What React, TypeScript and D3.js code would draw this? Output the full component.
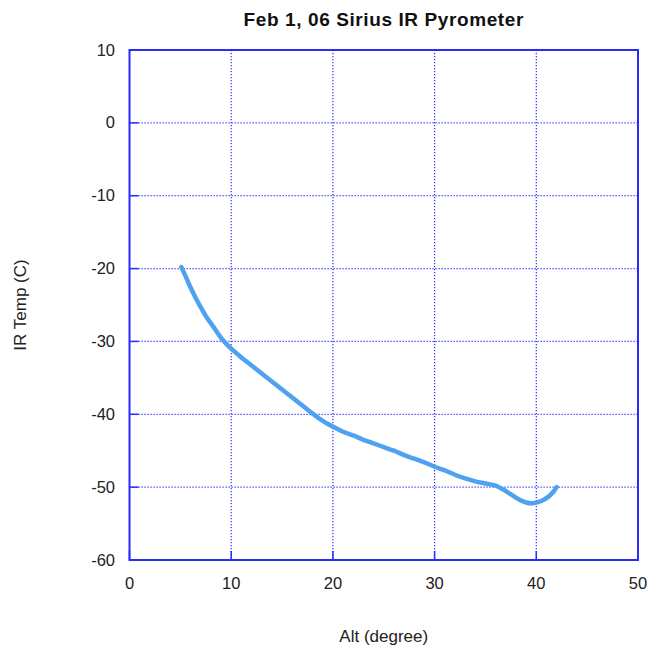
import React from "react";
import * as d3 from "d3";

const title = "Feb 1, 06 Sirius IR Pyrometer";
const xLabel = "Alt (degree)";
const yLabel = "IR Temp (C)";

const xTicks = [0, 10, 20, 30, 40, 50];
const yTicks = [10, 0, -10, -20, -30, -40, -50, -60];

// Altitude (degrees) and measured IR temperature (°C)
const altitude = [
  5.1, 5.5, 6.0, 6.5, 7.0, 7.5, 8.0, 8.5, 9.0, 9.5, 10, 11, 12, 13, 14, 15, 16, 17, 18, 19,
  20, 21, 22, 23, 24, 25, 26, 27, 28, 29, 30, 31, 32, 33, 34, 35, 36, 36.7, 37.5, 38.3,
  39.0, 39.7, 40.5, 41.2, 41.7, 42.0,
];
const irTemp = [
  -19.8, -21.0, -22.6, -24.0, -25.3, -26.5, -27.5, -28.5, -29.5, -30.3, -31.0, -32.2, -33.3,
  -34.4, -35.5, -36.6, -37.7, -38.8, -39.9, -40.9, -41.7, -42.4, -42.9, -43.5, -44.0, -44.5,
  -45.0, -45.6, -46.1, -46.6, -47.2, -47.7, -48.3, -48.8, -49.2, -49.5, -49.8, -50.3, -51.0,
  -51.7, -52.1, -52.2, -51.9, -51.3, -50.6, -50.0,
];

const W = 650;
const H = 650;
const left = 129.5;
const right = 638;
const top = 50;
const bottom = 560;

const font = "'Liberation Sans', Arial, sans-serif";
const gridColor = "#2a2aff";

export default function App() {
  const x = d3.scaleLinear().domain([0, 50]).range([left, right]);
  const y = d3.scaleLinear().domain([-60, 10]).range([bottom, top]);

  const points: [number, number][] = altitude.map((a, i) => [a, irTemp[i]]);
  const line = d3
    .line<[number, number]>()
    .x((d) => x(d[0]))
    .y((d) => y(d[1]))
    .curve(d3.curveCatmullRom.alpha(0.5));

  return (
    <svg
      width={W}
      height={H}
      style={{ position: "absolute", left: 0, top: 0, background: "#fff" }}
    >
      <text
        x={(left + right) / 2}
        y={26}
        textAnchor="middle"
        fontFamily={font}
        fontWeight="bold"
        fontSize={19}
        letterSpacing={0.6}
        fill="#111"
      >
        {title}
      </text>

      {/* dotted grid */}
      {xTicks.slice(1, -1).map((t) => (
        <line
          key={"gx" + t}
          x1={x(t)}
          x2={x(t)}
          y1={top}
          y2={bottom}
          stroke={gridColor}
          strokeWidth={1.2}
          strokeDasharray="1.2,1.8"
        />
      ))}
      {yTicks.slice(1, -1).map((t) => (
        <line
          key={"gy" + t}
          x1={left}
          x2={right}
          y1={y(t)}
          y2={y(t)}
          stroke={gridColor}
          strokeWidth={1.2}
          strokeDasharray="1.2,1.8"
        />
      ))}

      {/* inward ticks */}
      {xTicks.map((t) => (
        <line
          key={"tx" + t}
          x1={x(t)}
          x2={x(t)}
          y1={bottom}
          y2={bottom - 9}
          stroke={gridColor}
          strokeWidth={1.5}
        />
      ))}
      {yTicks.map((t) => (
        <line
          key={"ty" + t}
          x1={left}
          x2={left + 9}
          y1={y(t)}
          y2={y(t)}
          stroke={gridColor}
          strokeWidth={1.5}
        />
      ))}

      <rect
        x={left}
        y={top}
        width={right - left}
        height={bottom - top}
        fill="none"
        stroke={gridColor}
        strokeWidth={2}
      />

      {/* measurement trace */}
      <path
        d={line(points) || ""}
        fill="none"
        stroke="#4ea2ef"
        strokeWidth={4.5}
        strokeLinecap="round"
        strokeLinejoin="round"
      />

      {/* tick labels */}
      {xTicks.map((t) => (
        <text
          key={"lx" + t}
          x={x(t)}
          y={589}
          textAnchor="middle"
          fontFamily={font}
          fontSize={16.5}
          fill="#222"
        >
          {t}
        </text>
      ))}
      {yTicks.map((t) => (
        <text
          key={"ly" + t}
          x={115}
          y={y(t) + 5.5}
          textAnchor="end"
          fontFamily={font}
          fontSize={16.5}
          fill="#222"
        >
          {t}
        </text>
      ))}

      <text
        x={(left + right) / 2}
        y={642}
        textAnchor="middle"
        fontFamily={font}
        fontSize={17}
        fill="#222"
      >
        {xLabel}
      </text>
      <text
        transform={`translate(26, ${(top + bottom) / 2}) rotate(-90)`}
        textAnchor="middle"
        fontFamily={font}
        fontSize={17}
        fill="#222"
      >
        {yLabel}
      </text>
    </svg>
  );
}
